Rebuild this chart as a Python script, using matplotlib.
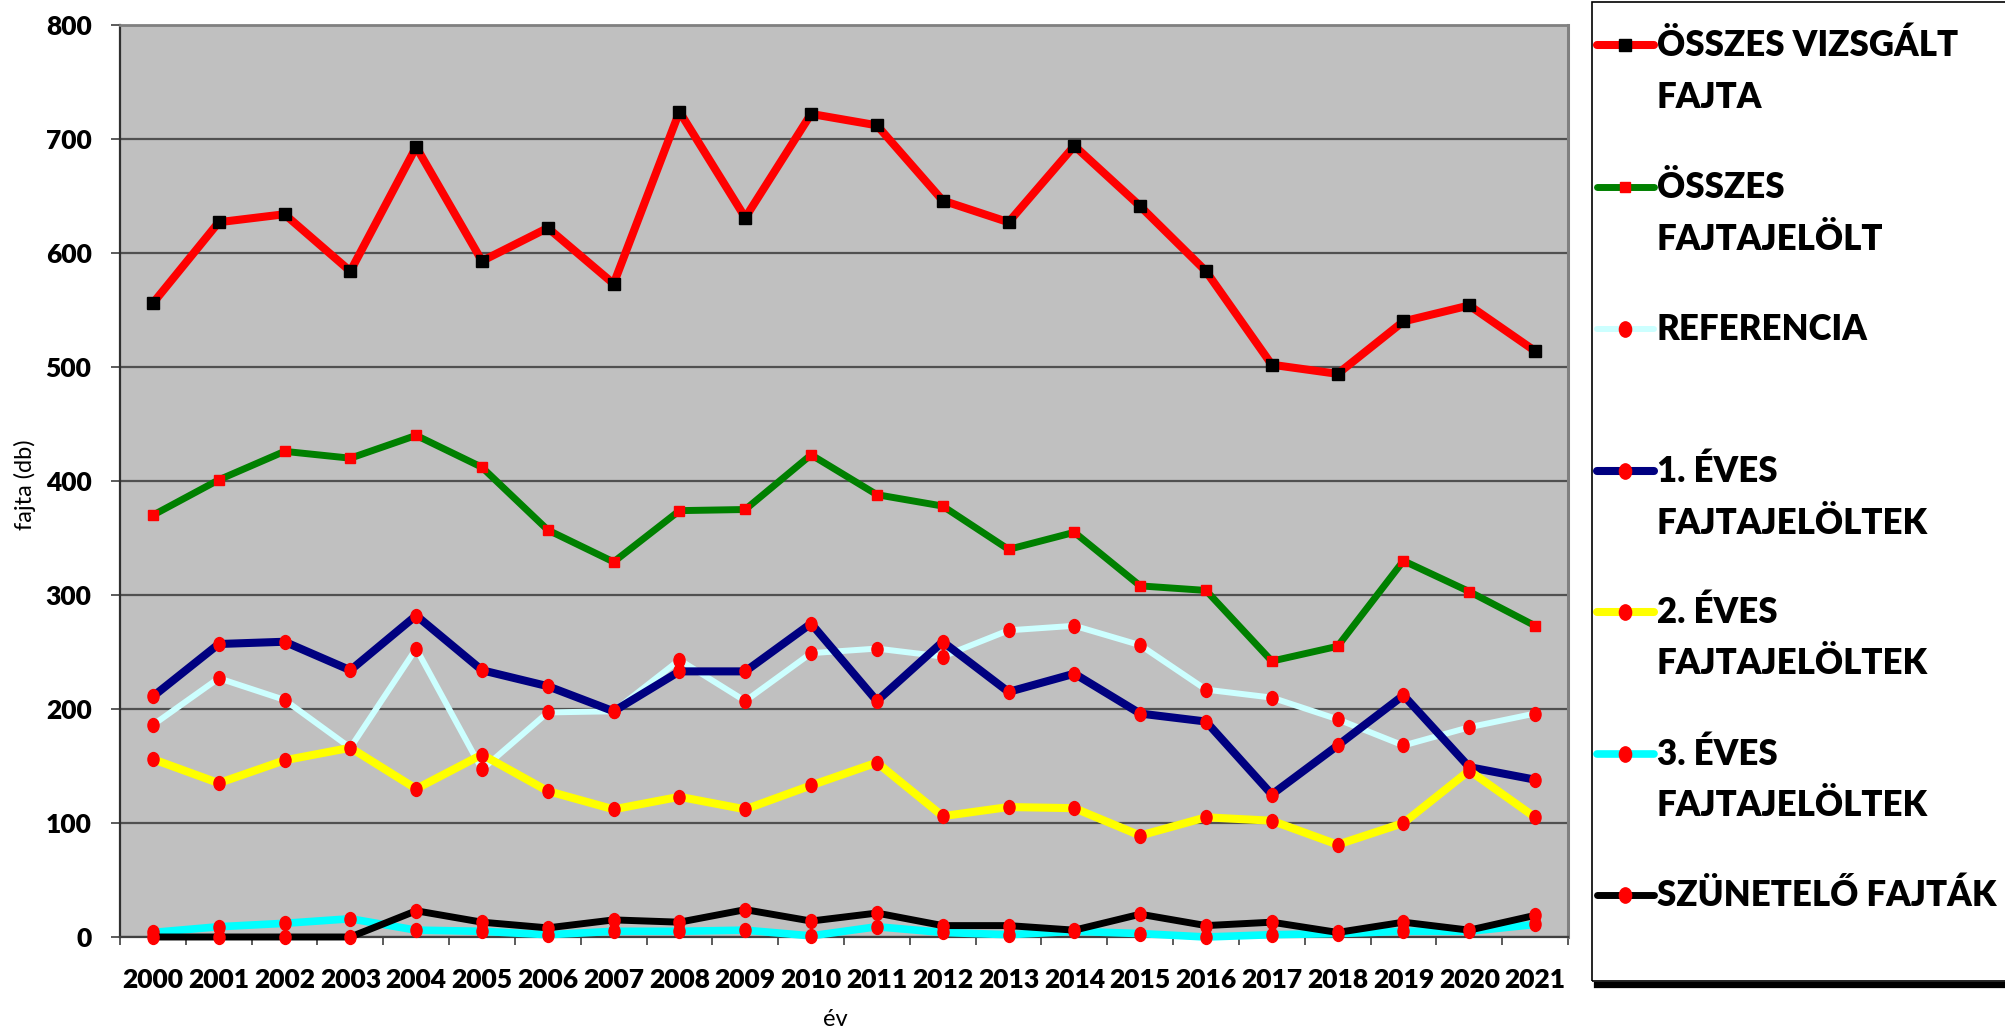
import numpy as np
import matplotlib
matplotlib.use("Agg")
import matplotlib.pyplot as plt
from matplotlib.lines import Line2D
from matplotlib.patches import Rectangle
from matplotlib.path import Path
from matplotlib.transforms import Affine2D

years = [str(y) for y in range(2000, 2022)]

osszes_vizsgalt = [556, 627, 634, 584, 693, 593, 622, 573, 724, 631, 722, 712,
                   646, 627, 694, 641, 584, 502, 494, 540, 554, 514]
osszes_jelolt = [370, 401, 426, 420, 440, 412, 357, 329, 374, 375, 423, 388,
                 378, 340, 355, 308, 304, 242, 255, 330, 303, 273]
referencia = [186, 227, 208, 166, 253, 147, 197, 198, 243, 207, 249, 253,
              246, 269, 273, 256, 217, 210, 191, 168, 184, 196]
eves1 = [211, 257, 259, 234, 282, 234, 220, 198, 233, 233, 275, 207,
         259, 215, 231, 196, 189, 125, 168, 212, 149, 138]
eves2 = [156, 135, 155, 166, 130, 160, 128, 112, 123, 112, 133, 153,
         106, 114, 113, 89, 105, 102, 81, 100, 146, 105]
eves3 = [4, 9, 12, 16, 6, 5, 2, 5, 5, 6, 1, 9,
         4, 2, 5, 3, 0, 2, 3, 5, 5, 11]
szunetelo = [0, 0, 0, 0, 23, 13, 8, 15, 13, 24, 14, 21,
             10, 10, 6, 20, 10, 13, 4, 13, 6, 19]

labels = [["ÖSSZES VIZSGÁLT", "FAJTA"],
          ["ÖSSZES", "FAJTAJELÖLT"],
          ["REFERENCIA"],
          ["1. ÉVES", "FAJTAJELÖLTEK"],
          ["2. ÉVES", "FAJTAJELÖLTEK"],
          ["3. ÉVES", "FAJTAJELÖLTEK"],
          ["SZÜNETELŐ FAJTÁK"]]

# tall red ellipse like the excel markers
ell = Path.unit_circle().transformed(Affine2D().scale(0.8, 1.0))

styles = [
    dict(color="#FF0000", lw=5.8, marker="s", ms=8.5, mfc="black", mec="black"),
    dict(color="#008000", lw=5.0, marker="s", ms=6.5, mfc="#FF0000", mec="#FF0000"),
    dict(color="#CCFFFF", lw=4.3, marker=ell, ms=10, mfc="#FF0000", mec="#FF0000"),
    dict(color="#000080", lw=5.8, marker=ell, ms=10, mfc="#FF0000", mec="#FF0000"),
    dict(color="#FFFF00", lw=5.8, marker=ell, ms=10, mfc="#FF0000", mec="#FF0000"),
    dict(color="#00FFFF", lw=5.5, marker=ell, ms=10, mfc="#FF0000", mec="#FF0000"),
    dict(color="#000000", lw=5.0, marker=ell, ms=10, mfc="#FF0000", mec="#FF0000"),
]
series = [osszes_vizsgalt, osszes_jelolt, referencia, eves1, eves2, eves3, szunetelo]

W, H = 2006, 1032
bold = ["Lato", "DejaVu Sans"]
BW = 800  # heavier than plain bold, closer to the calibri look
plt.rcParams["font.family"] = ["Lato", "DejaVu Sans"]

fig = plt.figure(figsize=(W / 100, H / 100), dpi=100)
ax = fig.add_axes([120 / W, 1 - 937 / H, (1568 - 120) / W, (937 - 25) / H])
ax.set_facecolor("#C0C0C0")

x = np.arange(len(years))
for i, (vals, st) in enumerate(zip(series, styles)):
    ax.plot(x, vals, solid_capstyle="round", solid_joinstyle="round",
            zorder=3 + i, clip_on=False, **st)

ax.set_xlim(-0.5, len(years) - 0.5)
ax.set_ylim(0, 800)
ax.set_yticks(range(0, 801, 100))
ax.yaxis.grid(True, color="#505050", lw=1.6)
ax.set_axisbelow(True)

ax.set_xticks(x)
ax.set_xticklabels(years, fontsize=19, fontweight=BW, family=bold)
ax.set_xticks(np.arange(-0.5, len(years)), minor=True)
ax.tick_params(axis="x", which="major", length=0, pad=22)
ax.tick_params(axis="x", which="minor", length=6, width=1.2, color="#404040", direction="out")
ax.tick_params(axis="y", length=6.5, width=1.2, color="#404040", pad=14)
for t in ax.get_yticklabels():
    t.set_fontsize(19)
    t.set_fontweight(BW)

ax.spines["left"].set_color("#303030")
ax.spines["left"].set_linewidth(1.6)
ax.spines["bottom"].set_color("#404040")
ax.spines["bottom"].set_linewidth(1.6)
ax.spines["right"].set_color("#808080")
ax.spines["right"].set_linewidth(2.2)
ax.spines["top"].set_color("#808080")
ax.spines["top"].set_linewidth(2.0)

fig.text(25 / W, 1 - 485 / H, "fajta (db)", rotation=90, ha="center", va="center",
         fontsize=17)
fig.text(835 / W, 1 - 1019 / H, "év", ha="center", va="center", fontsize=17)

# legend drawn by hand so the handle sits on the first text line
def fx(px):
    return px / W

def fy(py):
    return 1 - py / H

fig.patches.append(Rectangle((fx(1592), fy(981)), fx(2020) - fx(1592), fy(2) - fy(981),
                             transform=fig.transFigure, fill=False, ec="black", lw=1.2))
fig.lines.append(Line2D([fx(1597), fx(2010)], [fy(985), fy(985)], transform=fig.transFigure,
                        color="black", lw=4.5))

rows = [45, 187, 329, 471, 612, 754, 895]
for ry, lab, st in zip(rows, labels, styles):
    h = Line2D([fx(1597), fx(1654)], [fy(ry), fy(ry)], transform=fig.transFigure,
               solid_capstyle="round", color=st["color"], lw=st["lw"])
    fig.lines.append(h)
    m = Line2D([fx(1625)], [fy(ry)], transform=fig.transFigure, ls="none",
               marker=st["marker"], ms=st["ms"] * 1.1, mfc=st["mfc"], mec=st["mec"])
    fig.lines.append(m)
    for j, line in enumerate(lab):
        fig.text(fx(1657), fy(ry + 52 * j), line, ha="left", va="center",
                 fontsize=25, fontweight=BW, family=bold)

fig.savefig("out.png", dpi=100)
